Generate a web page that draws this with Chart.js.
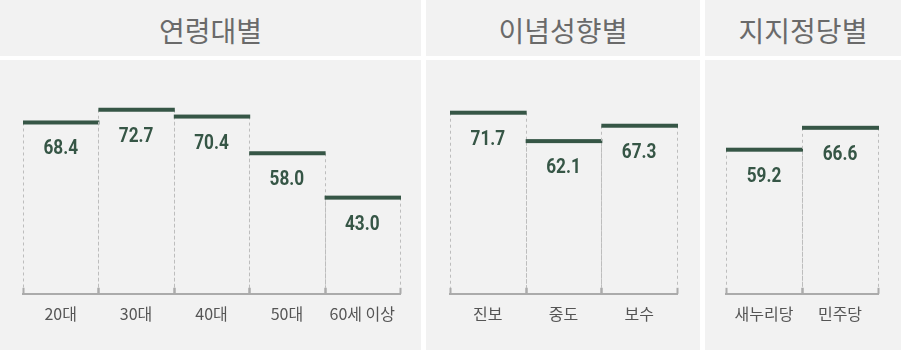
<!DOCTYPE html>
<html lang="ko">
  <head>
    <meta charset="UTF-8" />
    <title>연령대별 · 이념성향별 · 지지정당별</title>
    <script src="https://cdn.jsdelivr.net/npm/chart.js"></script>
    <style>
      html,
      body {
        margin: 0;
        padding: 0;
        background-color: #ffffff;
      }
      #wrap {
        position: relative;
        width: 901px;
        height: 350px;
        overflow: hidden;
      }
      .panel {
        position: absolute;
        top: 0;
        height: 350px;
      }
      .panel .head {
        position: absolute;
        left: 0;
        right: 0;
        top: 0;
        height: 56px;
        background-color: #f2f2f2;
        color: #6a6a6a;
        font-family: "Noto Sans CJK KR", sans-serif;
        font-weight: 400;
        font-size: 28px;
        line-height: 60px;
        text-align: center;
      }
      .panel canvas {
        position: absolute;
        left: 0;
        top: 60px;
        background-color: #f2f2f2;
      }
    </style>
  </head>
  <body>
    <div id="wrap">
      <div class="panel" id="p0" style="left: 0; width: 421px">
        <div class="head"></div>
        <canvas id="c0" width="421" height="290"></canvas>
      </div>
      <div class="panel" id="p1" style="left: 426px; width: 274px">
        <div class="head"></div>
        <canvas id="c1" width="274" height="290"></canvas>
      </div>
      <div class="panel" id="p2" style="left: 705px; width: 196px">
        <div class="head"></div>
        <canvas id="c2" width="196" height="290"></canvas>
      </div>
    </div>
    <script>
      // 패널 제목
      const panelTitles = ["연령대별", "이념성향별", "지지정당별"];

      // 연령대별
      const ageLabels = ["20대", "30대", "40대", "50대", "60세 이상"];
      const ageValues = [68.4, 72.7, 70.4, 58.0, 43.0];

      // 이념성향별
      const ideologyLabels = ["진보", "중도", "보수"];
      const ideologyValues = [71.7, 62.1, 67.3];

      // 지지정당별
      const partyLabels = ["새누리당", "민주당"];
      const partyValues = [59.2, 66.6];

      const GREEN = "#365646";
      const AXIS_GRAY = "#ababab";
      const DASH_GRAY = "#bdbdbd";

      // 막대: 점선 옆면 + 굵은 윗선 + 값 라벨
      const stepBars = {
        id: "stepBars",
        afterDatasetsDraw(chart) {
          const ctx = chart.ctx;
          const meta = chart.getDatasetMeta(0);
          const values = chart.data.datasets[0].data;
          const base = chart.chartArea.bottom;
          ctx.save();
          meta.data.forEach((bar, i) => {
            const left = bar.x - bar.width / 2;
            const right = bar.x + bar.width / 2;
            const top = bar.y;

            // 옆면 점선
            ctx.strokeStyle = DASH_GRAY;
            ctx.lineWidth = 1;
            ctx.setLineDash([3, 3]);
            [left, right].forEach((x) => {
              ctx.beginPath();
              ctx.moveTo(Math.round(x) + 0.5, top);
              ctx.lineTo(Math.round(x) + 0.5, base - 6);
              ctx.stroke();
            });

            // 바닥 눈금
            ctx.setLineDash([]);
            ctx.strokeStyle = AXIS_GRAY;
            ctx.lineWidth = 2;
            [left, right].forEach((x) => {
              ctx.beginPath();
              ctx.moveTo(Math.round(x) + 0.5, base - 6);
              ctx.lineTo(Math.round(x) + 0.5, base);
              ctx.stroke();
            });

            // 윗선
            ctx.fillStyle = GREEN;
            ctx.fillRect(left, top - 2, right - left + 1, 4);

            // 값 (좁은 글꼴 느낌으로 가로만 줄임)
            ctx.save();
            ctx.translate(bar.x, top + 27);
            ctx.scale(0.86, 1);
            ctx.font = "bold 20px Roboto, 'Liberation Sans', sans-serif";
            ctx.textAlign = "center";
            ctx.textBaseline = "middle";
            ctx.fillText(values[i].toFixed(1), 0, 0);
            ctx.restore();
          });
          ctx.restore();
        },
      };

      function makePanel(canvasId, title, labels, values, padLeft, padRight) {
        document
          .getElementById(canvasId)
          .parentNode.querySelector(".head").textContent = title;

        new Chart(document.getElementById(canvasId).getContext("2d"), {
          type: "bar",
          data: {
            labels: labels,
            datasets: [
              {
                data: values,
                backgroundColor: "rgba(0,0,0,0)",
                borderWidth: 0,
                categoryPercentage: 1,
                barPercentage: 1,
              },
            ],
          },
          options: {
            responsive: false,
            animation: false,
            devicePixelRatio: 1,
            layout: {
              padding: { top: 3, bottom: 15, left: padLeft, right: padRight },
            },
            plugins: {
              legend: { display: false },
              tooltip: { enabled: false },
            },
            scales: {
              x: {
                grid: { display: false, drawTicks: false },
                border: { display: true, color: AXIS_GRAY, width: 2 },
                ticks: {
                  color: "#555555",
                  padding: 11,
                  font: {
                    family: "'Noto Sans CJK KR', sans-serif",
                    size: 16,
                  },
                  maxRotation: 0,
                  autoSkip: false,
                },
              },
              y: {
                display: false,
                min: 10.5,
                max: 88.5,
              },
            },
          },
          plugins: [stepBars],
        });
      }

      makePanel("c0", panelTitles[0], ageLabels, ageValues, 23, 21);
      makePanel("c1", panelTitles[1], ideologyLabels, ideologyValues, 24, 23);
      makePanel("c2", panelTitles[2], partyLabels, partyValues, 21, 23);
    </script>
  </body>
</html>
